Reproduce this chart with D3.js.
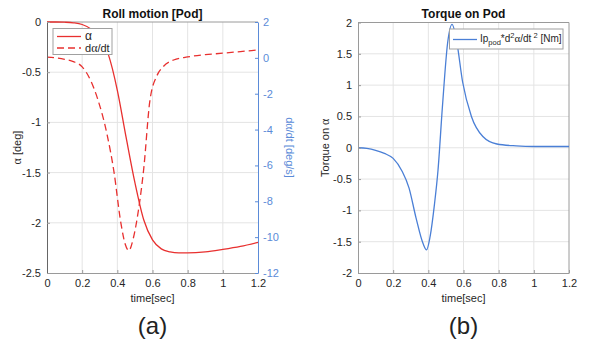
<!DOCTYPE html>
<html><head><meta charset="utf-8">
<script src="https://cdn.jsdelivr.net/npm/d3@7"></script>
<style>
body{margin:0;background:#fff;}
text{font-family:"Liberation Sans",Arial,Helvetica,sans-serif;}
</style></head>
<body><svg id="c" width="590" height="339"></svg>
<script>
// ---- data ----
const xTicks = [0, 0.2, 0.4, 0.6, 0.8, 1, 1.2];
const alphaTicks = [0, -0.5, -1, -1.5, -2, -2.5];
const rateTicks = [2, 0, -2, -4, -6, -8, -10, -12];
const torqueTicks = [2, 1.5, 1, 0.5, 0, -0.5, -1, -1.5, -2];

const alphaTime = [0, 0.05, 0.1, 0.15, 0.2, 0.25, 0.3, 0.35, 0.4, 0.45, 0.5, 0.55, 0.6, 0.65, 0.7, 0.75, 0.8, 0.9, 1.0, 1.1, 1.2];
const alphaDeg  = [0, 0, -0.002, -0.008, -0.025, -0.07, -0.16, -0.33, -0.68, -1.15, -1.6, -1.97, -2.17, -2.26, -2.29, -2.3, -2.3, -2.29, -2.265, -2.235, -2.195];

const rateTime = [0, 0.05, 0.1, 0.15, 0.2, 0.25, 0.29, 0.34, 0.38, 0.42, 0.445, 0.465, 0.49, 0.52, 0.55, 0.585, 0.625, 0.66, 0.72, 0.8, 0.9, 1.0, 1.1, 1.2];
const rateDeg  = [0.04, 0.0, -0.08, -0.21, -0.5, -1.3, -2.35, -4.2, -6.3, -9.2, -10.4, -10.75, -10.1, -8.5, -6.2, -2.4, -1.0, -0.5, -0.12, 0.05, 0.18, 0.26, 0.35, 0.44];

const torqueTime = [0, 0.05, 0.1, 0.15, 0.2, 0.25, 0.29, 0.33, 0.37, 0.39, 0.41, 0.435, 0.455, 0.48, 0.51, 0.535, 0.56, 0.595, 0.645, 0.71, 0.79, 0.9, 1.0, 1.2];
const torqueNm   = [0, -0.01, -0.04, -0.09, -0.17, -0.37, -0.64, -1.12, -1.53, -1.63, -1.42, -0.9, -0.36, 0.65, 1.68, 1.97, 1.72, 1.05, 0.5, 0.18, 0.06, 0.03, 0.02, 0.02];

// ---- styles ----
const RED = "#e8302f", BLUE = "#4a7fd6", AXBLUE = "#5b8bd8", GRID = "#e4e4e4", DARK = "#262626", EDGE = "#9a9a9a";
const SERIF = "'Liberation Serif', 'DejaVu Serif', serif";
const svg = d3.select("#c");
svg.append("rect").attr("width", 590).attr("height", 339).attr("fill", "#fff");

function fmt(d){ return String(d); }

// ===== Panel (a) =====
const A = {L: 47, R: 258, T: 22, B: 273};
const xa = d3.scaleLinear().domain([0, 1.2]).range([A.L, A.R]);
const ya = d3.scaleLinear().domain([-2.5, 0]).range([A.B, A.T]);
const yr = d3.scaleLinear().domain([-12, 2]).range([A.B, A.T]);

const ga = svg.append("g");
ga.append("g").selectAll("line").data(xTicks.slice(1, -1)).join("line")
  .attr("x1", d => xa(d)).attr("x2", d => xa(d)).attr("y1", A.T).attr("y2", A.B)
  .attr("stroke", GRID).attr("stroke-width", 1);
ga.append("g").selectAll("line").data(alphaTicks.slice(1, -1)).join("line")
  .attr("x1", A.L).attr("x2", A.R).attr("y1", d => ya(d)).attr("y2", d => ya(d))
  .attr("stroke", GRID).attr("stroke-width", 1);
ga.append("line").attr("x1", A.L).attr("x2", A.R).attr("y1", A.T).attr("y2", A.T).attr("stroke", EDGE);

const lineA = d3.line().x((d, i) => xa(alphaTime[i])).y(d => ya(d)).curve(d3.curveMonotoneX);
const lineR = d3.line().x((d, i) => xa(rateTime[i])).y(d => yr(d)).curve(d3.curveMonotoneX);
ga.append("path").attr("d", lineR(rateDeg)).attr("fill", "none").attr("stroke", RED)
  .attr("stroke-width", 1.3).attr("stroke-dasharray", "7,4");
ga.append("path").attr("d", lineA(alphaDeg)).attr("fill", "none").attr("stroke", RED)
  .attr("stroke-width", 1.3);

const axB = ga.append("g").attr("transform", `translate(0,${A.B})`)
  .call(d3.axisBottom(xa).tickValues(xTicks).tickFormat(fmt).tickSizeInner(-3).tickSizeOuter(0).tickPadding(6));
const axL = ga.append("g").attr("transform", `translate(${A.L},0)`)
  .call(d3.axisLeft(ya).tickValues(alphaTicks).tickFormat(fmt).tickSizeInner(-3).tickSizeOuter(0).tickPadding(6));
const axR = ga.append("g").attr("transform", `translate(${A.R},0)`)
  .call(d3.axisRight(yr).tickValues(rateTicks).tickFormat(fmt).tickSizeInner(-3).tickSizeOuter(0).tickPadding(5));
[axB, axL].forEach(g => {
  g.select(".domain").attr("stroke", EDGE);
  g.selectAll(".tick line").attr("stroke", EDGE);
  g.selectAll(".tick text").attr("fill", DARK).attr("font-size", 11);
});
axL.select(".domain").attr("stroke", "#666");
axR.select(".domain").attr("stroke", AXBLUE);
axR.selectAll(".tick line").attr("stroke", AXBLUE);
axR.selectAll(".tick text").attr("fill", AXBLUE).attr("font-size", 11);

ga.append("text").attr("x", (A.L + A.R) / 2).attr("y", 18).attr("text-anchor", "middle")
  .attr("font-size", 12).attr("font-weight", "bold").attr("fill", "#111").text("Roll motion [Pod]");
ga.append("text").attr("x", (A.L + A.R) / 2).attr("y", 302).attr("text-anchor", "middle")
  .attr("font-size", 11).attr("fill", DARK).text("time[sec]");
const yl = ga.append("text").attr("transform", `translate(21,${(A.T + A.B) / 2}) rotate(-90)`)
  .attr("text-anchor", "middle").attr("font-size", 11).attr("fill", DARK);
yl.append("tspan").attr("font-family", SERIF).attr("font-size", 12).text("α");
yl.append("tspan").text(" [deg]");
const yrl = ga.append("text").attr("transform", `translate(286,${(A.T + A.B) / 2}) rotate(90)`)
  .attr("text-anchor", "middle").attr("font-size", 11).attr("fill", AXBLUE);
yrl.append("tspan").text("d");
yrl.append("tspan").attr("font-family", SERIF).attr("font-size", 12).text("α");
yrl.append("tspan").text("/dt [deg/s]");

// legend (a)
ga.append("rect").attr("x", 53).attr("y", 28.5).attr("width", 59).attr("height", 26)
  .attr("fill", "#fff").attr("stroke", "#a0a0a0").attr("stroke-width", 1);
ga.append("line").attr("x1", 57).attr("x2", 81).attr("y1", 36.5).attr("y2", 36.5).attr("stroke", RED).attr("stroke-width", 1.3);
ga.append("line").attr("x1", 57).attr("x2", 81).attr("y1", 48).attr("y2", 48).attr("stroke", RED).attr("stroke-width", 1.3).attr("stroke-dasharray", "7,4");
ga.append("text").attr("x", 85).attr("y", 40).attr("font-size", 12).attr("font-family", SERIF).attr("fill", DARK).text("α");
const l2 = ga.append("text").attr("x", 85).attr("y", 52).attr("font-size", 11).attr("fill", DARK);
l2.append("tspan").text("d");
l2.append("tspan").attr("font-family", SERIF).attr("font-size", 12).text("α");
l2.append("tspan").text("/dt");

ga.append("text").attr("x", (A.L + A.R) / 2).attr("y", 334).attr("text-anchor", "middle")
  .attr("font-size", 24).attr("font-weight", 300).attr("font-family", "'Open Sans', 'Liberation Sans', sans-serif")
  .attr("fill", "#222").text("(a)");

// ===== Panel (b) =====
const Bp = {L: 358, R: 569, T: 22.5, B: 273};
const xb = d3.scaleLinear().domain([0, 1.2]).range([Bp.L, Bp.R]);
const yb = d3.scaleLinear().domain([-2, 2]).range([Bp.B, Bp.T]);
const gb = svg.append("g");
gb.append("g").selectAll("line").data(xTicks.slice(1, -1)).join("line")
  .attr("x1", d => xb(d)).attr("x2", d => xb(d)).attr("y1", Bp.T).attr("y2", Bp.B)
  .attr("stroke", GRID);
gb.append("g").selectAll("line").data(torqueTicks.slice(1, -1)).join("line")
  .attr("x1", Bp.L).attr("x2", Bp.R).attr("y1", d => yb(d)).attr("y2", d => yb(d))
  .attr("stroke", GRID);
gb.append("line").attr("x1", Bp.L).attr("x2", Bp.R).attr("y1", Bp.T).attr("y2", Bp.T).attr("stroke", EDGE);
gb.append("line").attr("x1", Bp.R).attr("x2", Bp.R).attr("y1", Bp.T).attr("y2", Bp.B).attr("stroke", EDGE);

const lineT = d3.line().x((d, i) => xb(torqueTime[i])).y(d => yb(d)).curve(d3.curveMonotoneX);
gb.append("path").attr("d", lineT(torqueNm)).attr("fill", "none").attr("stroke", BLUE).attr("stroke-width", 1.3);

const bB = gb.append("g").attr("transform", `translate(0,${Bp.B})`)
  .call(d3.axisBottom(xb).tickValues(xTicks).tickFormat(fmt).tickSizeInner(-3).tickSizeOuter(0).tickPadding(6));
const bL = gb.append("g").attr("transform", `translate(${Bp.L},0)`)
  .call(d3.axisLeft(yb).tickValues(torqueTicks).tickFormat(fmt).tickSizeInner(-3).tickSizeOuter(0).tickPadding(6));
[bB, bL].forEach(g => {
  g.select(".domain").attr("stroke", EDGE);
  g.selectAll(".tick line").attr("stroke", EDGE);
  g.selectAll(".tick text").attr("fill", DARK).attr("font-size", 11);
});
gb.append("text").attr("x", (Bp.L + Bp.R) / 2).attr("y", 18).attr("text-anchor", "middle")
  .attr("font-size", 12).attr("font-weight", "bold").attr("fill", "#111").text("Torque on Pod");
gb.append("text").attr("x", (Bp.L + Bp.R) / 2).attr("y", 302).attr("text-anchor", "middle")
  .attr("font-size", 11).attr("fill", DARK).text("time[sec]");
const tl = gb.append("text").attr("transform", `translate(329,${(Bp.T + Bp.B) / 2}) rotate(-90)`)
  .attr("text-anchor", "middle").attr("font-size", 11).attr("fill", DARK);
tl.append("tspan").text("Torque on ");
tl.append("tspan").attr("font-family", SERIF).attr("font-size", 12).text("α");

// legend (b)
gb.append("rect").attr("x", 449.5).attr("y", 29).attr("width", 113.5).attr("height", 20)
  .attr("fill", "#fff").attr("stroke", "#a0a0a0");
gb.append("line").attr("x1", 453).attr("x2", 477).attr("y1", 39.5).attr("y2", 39.5).attr("stroke", BLUE).attr("stroke-width", 1.3);
const lt = gb.append("text").attr("x", 480).attr("y", 42).attr("font-size", 10).attr("fill", DARK);
lt.append("tspan").text("Ip");
lt.append("tspan").attr("font-size", 7.5).attr("dy", 3).text("pod");
lt.append("tspan").attr("dy", -3).text("*d");
lt.append("tspan").attr("font-size", 7.5).attr("dy", -4).text("2");
lt.append("tspan").attr("dy", 4).attr("font-family", SERIF).attr("font-size", 11).text("α");
lt.append("tspan").text("/dt");
lt.append("tspan").attr("font-size", 7.5).attr("dy", -4).text(" 2");
lt.append("tspan").attr("dy", 4).text(" [Nm]");

gb.append("text").attr("x", (Bp.L + Bp.R) / 2).attr("y", 334).attr("text-anchor", "middle")
  .attr("font-size", 24).attr("font-weight", 300).attr("font-family", "'Open Sans', 'Liberation Sans', sans-serif")
  .attr("fill", "#222").text("(b)");
</script></body></html>
